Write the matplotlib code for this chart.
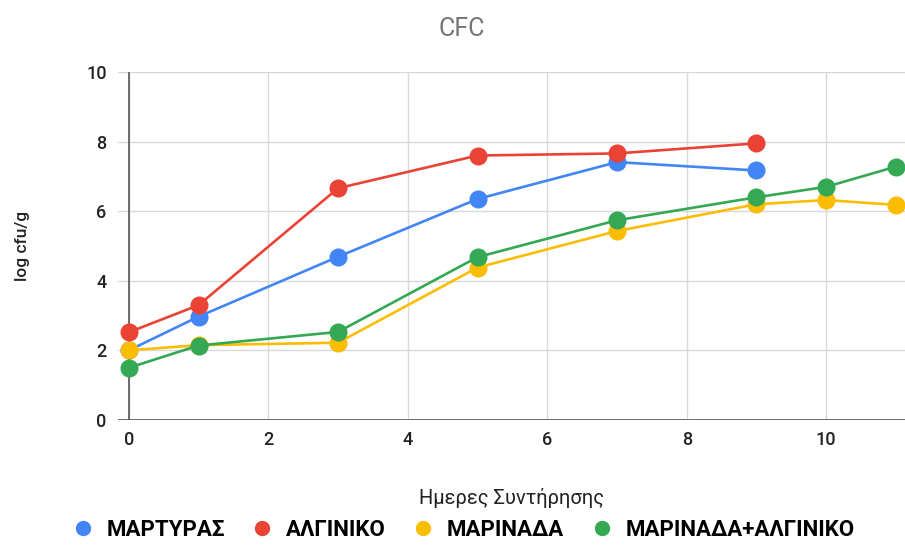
import matplotlib.pyplot as plt
from matplotlib.lines import Line2D

# days of storage
days_a = [0, 1, 3, 5, 7, 9]
days_b = [0, 1, 3, 5, 7, 9, 10, 11]

martyras = [2.0, 2.97, 4.69, 6.35, 7.41, 7.17]
alginiko = [2.52, 3.3, 6.66, 7.6, 7.66, 7.95]
marinada = [2.0, 2.15, 2.22, 4.38, 5.43, 6.2, 6.32, 6.18]
marinada_alg = [1.5, 2.14, 2.53, 4.68, 5.74, 6.4, 6.7, 7.28]

names = ['ΜΑΡΤΥΡΑΣ', 'ΑΛΓΙΝΙΚΟ', 'ΜΑΡΙΝΑΔΑ', 'ΜΑΡΙΝΑΔΑ+ΑΛΓΙΝΙΚΟ']
colors = ['#4285F4', '#EA4335', '#FBBC04', '#34A853']

plt.rcParams['font.family'] = ['Roboto', 'DejaVu Sans']

fig = plt.figure(figsize=(9.05, 5.5), dpi=100)
ax = fig.add_axes([0.130, 0.2364, 0.870, 0.6327])

series = [(days_a, martyras), (days_a, alginiko), (days_b, marinada), (days_b, marinada_alg)]
for (x, y), c, n in zip(series, colors, names):
    ax.plot(x, y, color=c, linewidth=1.9, marker='o', markersize=13,
            markeredgewidth=0, label=n, clip_on=False, zorder=3)

ax.set_xlim(-0.16, 11.13)
ax.set_ylim(0, 10)
ax.set_xticks([0, 2, 4, 6, 8, 10])
ax.set_yticks([0, 2, 4, 6, 8, 10])
ax.grid(True, color='#d9d9d9', linewidth=1)
ax.set_axisbelow(True)
ax.axvline(0, color='#555555', linewidth=1.2, zorder=2)
ax.axhline(0, color='#555555', linewidth=1.2, zorder=2)
for s in ax.spines.values():
    s.set_visible(False)
ax.tick_params(length=0, labelsize=13, colors='#222222', pad=8)
for lbl in ax.get_xticklabels() + ax.get_yticklabels():
    lbl.set_fontweight('medium')

fig.text(0.51, 0.948, 'CFC', ha='center', va='center', fontsize=18, color='#757575')
ax.set_xlabel('Ημερες Συντήρησης', fontsize=14.5, color='#222222', labelpad=28)
ax.set_ylabel('log cfu/g', fontsize=12.5, color='#222222', labelpad=40, fontweight='medium')

handles = [Line2D([], [], marker='o', linestyle='none', color=c, markersize=10) for c in colors]
fig.legend(handles, names, loc='center', bbox_to_anchor=(0.508, 0.037), ncol=4,
           frameon=False, handletextpad=0.25, handlelength=1.6, columnspacing=0.9,
           prop={'family': ['Roboto', 'DejaVu Sans'], 'weight': 'bold', 'size': 16})

fig.savefig('out.png', dpi=100)
